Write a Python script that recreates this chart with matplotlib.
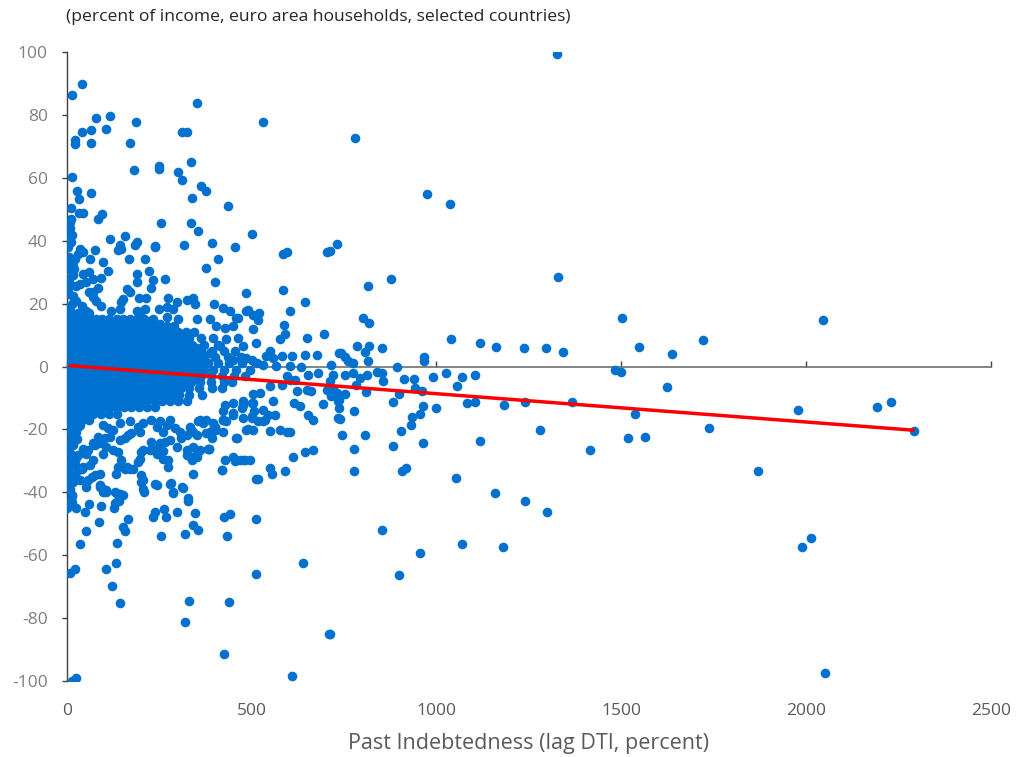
import numpy as np
import matplotlib.pyplot as plt

# dense centre of the cloud, read row by row (y level, x values)
core_rows = [
    (17, [2, 15, 30, 45, 60]),
    (15, [8, 25, 42, 60, 78, 95, 115, 135, 152, 172, 190, 210, 232]),
    (13, [0, 17, 34, 51, 70, 88, 106, 124, 142, 160, 178, 197, 215, 234, 252, 272, 290]),
    (11, [8, 25, 43, 60, 79, 97, 115, 133, 151, 169, 188, 206, 224, 243, 262, 280, 300, 322, 345]),
    (9, [0, 17, 34, 52, 70, 88, 106, 124, 142, 160, 178, 196, 214, 232, 250, 268, 286, 305, 330, 362, 395]),
    (7, [8, 26, 43, 61, 79, 97, 115, 133, 151, 169, 187, 205, 223, 241, 259, 278, 296, 315, 340, 372, 410]),
    (5, [0, 17, 35, 52, 70, 88, 106, 124, 142, 160, 178, 196, 214, 232, 250, 268, 287, 305, 324, 344, 364, 392, 425, 455]),
    (3, [8, 26, 44, 61, 79, 97, 115, 133, 151, 169, 187, 205, 223, 241, 259, 277, 296, 314, 333, 352, 372, 400, 436, 470]),
    (1, [0, 17, 35, 53, 70, 88, 106, 124, 142, 160, 178, 196, 214, 232, 250, 268, 286, 305, 323, 342, 361, 381, 410, 440, 475, 515]),
    (-1, [8, 26, 44, 62, 79, 97, 115, 133, 151, 169, 187, 205, 223, 241, 259, 277, 295, 314, 332, 351, 370, 395, 425, 458, 495]),
    (-3, [0, 17, 35, 53, 71, 88, 106, 124, 142, 160, 178, 196, 214, 232, 250, 268, 287, 305, 324, 343, 363, 390, 420, 452, 482]),
    (-5, [8, 26, 44, 62, 80, 97, 115, 133, 151, 169, 187, 205, 223, 242, 260, 279, 297, 316, 336, 360, 390, 425, 448]),
    (-7, [0, 17, 35, 53, 71, 89, 107, 125, 143, 161, 179, 197, 215, 233, 252, 270, 289, 308, 330, 358, 392, 420]),
    (-9, [8, 26, 44, 62, 80, 98, 116, 134, 152, 170, 188, 206, 225, 244, 263, 283, 303, 330, 365]),
    (-11, [0, 17, 35, 53, 71, 89, 107, 125, 143, 161, 180, 199, 218, 238, 258, 280, 302, 325]),
    (-13, [8, 26, 44, 62, 80, 98, 117, 136, 155, 175, 196, 218, 240]),
    (-15, [0, 17, 35, 53, 72, 92, 113, 135]),
    (-17, [6, 22, 40, 60]),
    (-19, [2, 18, 32]),
]

# households with almost no past debt (left edge)
edge_pts = [
    (4, 19), (14, 20), (26, 21), (6, 23), (18, 22.5), (3, 25), (12, 26), (24, 25.5), (5, 28), (16, 29),
    (2, 31), (10, 32.5), (20, 31), (6, 35), (3, 38), (12, 39.5), (4, 44), (9, 46),
    (4, -21), (14, -22), (28, -23), (6, -24.5), (18, -25), (3, -27), (12, -28), (25, -29), (6, -30.5),
    (15, -31.5), (4, -33), (10, -35), (3, -37.5), (8, -39), (5, -43), (2, -45),
]

# scattered points above the centre
upper_pts = [
    (15, 86.4), (41, 89.8), (22, 72.2), (22, 70.8), (41, 74.6), (66, 75.3), (66, 71.2), (79, 79.2), (105, 75.7),
    (118, 79.8), (172, 71.2), (188, 77.7), (182, 62.5), (15, 60.2), (28, 55.7), (34, 53.3), (66, 55.2), (12, 50.3),
    (12, 47.1), (34, 48.7), (44, 48.7), (84, 47.1), (96, 48.4), (8, 44.1), (8, 41.1), (15, 42), (118, 40.5),
    (157, 41.6), (189, 39.6), (250, 63.9), (250, 62.9), (254, 45.7), (301, 62.0), (313, 59.4), (311, 74.6),
    (324, 74.6), (336, 65.1), (353, 83.8), (339, 53.7), (362, 57.5), (378, 55.7), (336, 45.7), (355, 43.2),
    (393, 39.3), (436, 51.1), (501, 42.3), (530, 77.7), (239, 38.2), (317, 38.6), (455, 37.9),
    (143, 38.8), (139, 37), (148, 37.5), (184, 38.6), (240, 38), (76, 37), (35, 37.5), (31, 35.9), (44, 36.4),
    (22, 34.3), (17, 32.1), (62, 34.3), (98, 33.2), (169, 34.3), (211, 34.3), (112, 30.5), (409, 34.3),
    (378, 31.3), (401, 27), (191, 29.5), (189, 26.8), (223, 30.5), (234, 27.6), (229, 24.9), (265, 27.9),
    (60, 30.2), (44, 29.5), (71, 27.7), (53, 26.8), (35, 26.3), (92, 28.2), (85, 24.9), (71, 23.6), (60, 23.6),
    (162, 24.7), (170, 23.8), (152, 21.5), (148, 20.4), (195, 21.8), (214, 21.8), (274, 21.8), (297, 20.4),
    (324, 21.2), (342, 21.8), (346, 19.9), (486, 23.4), (398, 19.9), (423, 18.5), (441, 17.7), (486, 17.7),
    (504, 16.3), (249, 18.3), (270, 18.8), (288, 18.3), (189, 17.7), (211, 18.3), (143, 18.3), (121, 17.7),
    (94, 19.3), (80, 20.9), (71, 22), (53, 17.7), (40, 19.1), (351, 15.1), (387, 15.1), (405, 12.9),
    (428, 12.4), (450, 12.9), (459, 15.3), (301, 15.1), (270, 15.6), (252, 13.5), (225, 14.5), (207, 15.1),
    (198, 17.2), (504, 11.9), (513, 7.6), (477, 6.5), (464, 9.2), (432, 8.7), (414, 6.5), (387, 4.4),
    (369, 3.3), (351, 6.0), (328, 8.7), (306, 9.2), (288, 7.6), (270, 8.1), (486, 2.8), (500, 2.2), (450, 2.2),
    (585, 35.9), (595, 36.4), (705, 36.6), (584, 24.5), (644, 20.4), (604, 17.7), (462, 15.3), (491, 17.9),
    (520, 17), (516, 14.8), (588, 13.1), (590, 10.3), (576, 8.7), (649, 9.2), (696, 10.5), (737, 4.4),
    (644, 3.8), (676, 3.8), (608, 3.5), (581, 3.3), (558, 2.8), (540, 3.3), (549, 4.9), (635, -0.1),
    (604, 0.1), (716, 0.6), (567, 0.1), (530, 0.5),
]

# scattered points below the centre
lower_pts = [
    (653, -2.6), (680, -2.0), (712, -4.7), (721, -2.6), (622, -7.9), (649, -7.4), (662, -7.9), (703, -7.4),
    (730, -8.4), (734, -11.1), (614, -11.6), (631, -12.7), (694, -11.9), (653, -15.4), (667, -17.0),
    (734, -16.5), (576, -20.2), (595, -20.7), (605, -20.9), (551, -20.4), (644, -27.1), (667, -26.6),
    (612, -28.7), (590, -33.2), (549, -32.2), (554, -34.1), (513, -35.7), (495, -29.8), (477, -29.8),
    (450, -28.9), (455, -30.1), (428, -29.8), (420, -32.8), (342, -34.1), (461, -22.9), (385, -26.1),
    (491, -20), (504, -20.2), (536, -17), (531, -17.5), (530, -13.8), (563, -15.4), (545, -15.4), (558, -11.1),
    (522, -8.4), (549, -6.1), (581, -5.8), (595, -3.1), (604, -4.2), (617, -4.2), (503, -8.8), (477, -12.2),
    (500, -11.6), (506, -14.3), (500, -16.4), (518, -17.5), (423, -17), (432, -17.5), (423, -14.3),
    (450, -15.4), (477, -16.4), (360, -17), (369, -18), (387, -20.7), (401, -19.1), (396, -20.2), (351, -21.8),
    (337, -20.2), (423, -20.7), (351, -28.7), (340, -29.8), (342, -25.5), (518, -35.7), (468, -29.8),
    (482, -29.8), (421, -33), (315, -38.7), (288, -40), (328, -42), (238, -37.5), (279, -37.3), (202, -34.6),
    (202, -36.8), (207, -38.9), (143, -40.5), (139, -41), (130, -40), (98, -38.9), (89, -37.8), (67, -35.2),
    (76, -34.6), (89, -34.1), (58, -36.2), (17, -36.8), (13, -34.6), (31, -33), (40, -32.5), (22, -30.9),
    (62, -31.4), (13, -41), (139, -32), (157, -32.5), (170, -32.5), (179, -32.5), (148, -29.8), (202, -27.1),
    (207, -26.6), (198, -29.3), (225, -26.6), (243, -26.1), (261, -29.3), (274, -32), (324, -28.2),
    (337, -28.7), (351, -27.7), (384, -26.1), (229, -23.9), (252, -24.5), (265, -23.9), (175, -21.3),
    (198, -20.7), (166, -21.8), (157, -22.9), (103, -22.9), (85, -22.3), (94, -24.5), (76, -25), (107, -25.5),
    (125, -26.6), (139, -27.1), (44, -26.1), (53, -27.7), (31, -28.2), (58, -26.6), (22, -22.9), (17, -24.5),
    (26, -20.7), (35, -18.6), (22, -19.1), (98, -18.6), (112, -19.6), (125, -20.2), (116, -22.3), (143, -23.4),
    (143, -18), (170, -17.5), (193, -19.1), (207, -18), (229, -17), (243, -19.1), (252, -17.5), (279, -17),
    (270, -18.6), (292, -19.6), (306, -20.7), (333, -19.1), (342, -20.7), (324, -21.8), (310, -22.9),
    (279, -23.4), (261, -20.7), (355, -17.5), (378, -17), (396, -18), (405, -20.2), (392, -22.9), (378, -21.3),
    (423, -17), (450, -14.9), (473, -13.2), (500, -15.9), (504, -11.6), (477, -11.1), (450, -11.6),
    (428, -12.2), (486, -20.2), (459, -22.9), (98, -40), (162, -32), (134, -34.1), (193, -30.4), (274, -29.8),
    (243, -27.7), (261, -26.8), (297, -25.5), (324, -26.6), (342, -28.7), (360, -26.6), (382, -26.4),
    (71, -24.5), (89, -38.4), (107, -39.4), (35, -36.2), (53, -38.4), (22, -34.6), (44, -32), (71, -29.8),
    (98, -27.7), (313, -38.4), (283, -37.1), (243, -37.6), (207, -36), (15, -41.3), (15, -43.2), (24, -45),
    (60, -43.7), (50, -46.4), (92, -44.4), (88, -49.4), (106, -40), (51, -52.3), (37, -56.5), (8, -65.6),
    (22, -64.6), (106, -64.5), (133, -62.6), (122, -69.9), (143, -75.2), (137, -56.2), (127, -45),
    (131, -43.5), (140, -42.8), (142, -40.7), (151, -41), (151, -51.2), (157, -52.2), (166, -48.6),
    (208, -40), (233, -47.8), (240, -46.4), (263, -45.5), (269, -47.8), (256, -53.8), (288, -40.3),
    (299, -46.4), (320, -53.2), (327, -42.9), (346, -46.7), (342, -50.4), (355, -52), (330, -74.5),
    (320, -81.3), (426, -47.8), (441, -47.1), (433, -53.8), (438, -74.8), (426, -91.6), (513, -48.6),
    (513, -66), (609, -98.4), (638, -62.6), (709, -85), (15, -100.1), (24, -99.3),
]

# high debt-to-income households (x above ~700)
far_pts = [
    (730, 38.9), (712, 36.9), (779, 72.8), (975, 54.9), (1036, 51.8), (1326, 99.4), (815, 25.5), (876, 27.9),
    (1329, 28.6), (802, 15.4), (818, 13.8), (1502, 15.4), (1040, 8.9), (1119, 7.4), (1162, 6.2), (1236, 5.9),
    (1297, 5.9), (1341, 4.6), (1547, 6.2), (1637, 3.9), (966, 3.0), (966, 1.9), (892, -0.2), (786, 6.5),
    (818, 6.5), (853, 5.9), (806, 4.7), (815, 1.7), (741, 4.4), (752, 3.1), (761, 1.7), (773, 1.0),
    (1482, -1.0), (1499, -1.8), (752, -2.6), (773, -2.2), (793, -3.6), (811, -2.6), (838, -1.8), (853, -2.2),
    (856, -4.5), (912, -4.0), (940, -4.0), (992, -3.2), (1027, -2.1), (1069, -3.2), (1104, -2.8), (1625, -6.6),
    (721, -7.2), (716, -9.5), (737, -10.6), (737, -13.2), (739, -16.7), (754, -8.7), (782, -6.0), (809, -8.2),
    (777, -14.3), (744, -21.9), (806, -21.9), (777, -26.1), (777, -33.3), (883, -11.2), (898, -8.8),
    (905, -20.4), (883, -25.4), (934, -16.2), (931, -18.5), (941, -7.0), (960, -7.9), (963, -12.7),
    (956, -15.2), (963, -24.2), (999, -13.3), (908, -33.3), (918, -32.2), (1056, -6.3), (1082, -11.7),
    (1105, -11.3), (1184, -12.1), (1239, -11.3), (1368, -11.2), (1538, -15.2), (1519, -22.8), (1563, -22.3),
    (1281, -20.1), (1416, -26.5), (1118, -23.8), (1053, -35.6), (1159, -40.2), (1240, -42.8), (1300, -46.3),
    (853, -52.0), (1069, -56.5), (1181, -57.3), (956, -59.2), (898, -66.5), (712, -85.0),
    (1721, 8.5), (2046, 14.9), (1737, -19.7), (1869, -33.3), (1978, -13.9), (1988, -57.3), (2013, -54.6),
    (2052, -97.7), (2193, -12.8), (2229, -11.2), (2293, -20.4),
]

# fitted line
trend_x = [5, 2293]
trend_y = [0.3, -20.3]

x_ticks = [0, 500, 1000, 1500, 2000, 2500]
y_ticks = [-100, -80, -60, -40, -20, 0, 20, 40, 60, 80, 100]

xs = []
ys = []
for yv, row in core_rows:
    for xv in row:
        xs.append(xv)
        ys.append(yv)
for group in [edge_pts, upper_pts, lower_pts, far_pts]:
    for xv, yv in group:
        xs.append(xv)
        ys.append(yv)

plt.rcParams['font.family'] = ['Open Sans', 'DejaVu Sans']
plt.rcParams['axes.unicode_minus'] = False

fig = plt.figure(figsize=(10.19, 7.57), dpi=100)
ax = fig.add_axes([0.0655, 0.1008, 0.907, 0.8301])

ax.scatter(xs, ys, s=48, color='#0071CE', linewidths=0, zorder=3)
ax.plot(trend_x, trend_y, color='#FF0000', lw=2.5, zorder=4, solid_capstyle='butt')

ax.set_xlim(0, 2500)
ax.set_ylim(-100, 100)

for s in ['top', 'right']:
    ax.spines[s].set_visible(False)
ax.spines['bottom'].set_position(('data', 0))
ax.spines['bottom'].set_color('#6f6f6f')
ax.spines['bottom'].set_linewidth(1.2)
ax.spines['left'].set_color('#404040')
ax.spines['left'].set_linewidth(1.0)

ax.set_xticks(x_ticks)
ax.tick_params(axis='x', direction='in', length=4.3, width=1, color='#404040', labelbottom=False)
ax.set_yticks(y_ticks)
ax.tick_params(axis='y', direction='out', length=3.6, width=1, color='#404040',
               labelsize=12.5, labelcolor='#7f7f7f', pad=10)

sec = ax.secondary_xaxis(0.0)
sec.set_xticks(x_ticks)
sec.spines['bottom'].set_visible(False)
sec.tick_params(length=0, pad=16, labelsize=12.5, labelcolor='#595959')
sec.set_xlabel('Past Indebtedness (lag DTI, percent)', fontsize=15.5, color='#595959', labelpad=10)

fig.text(0.0648, 0.978, '(percent of income, euro area households, selected countries)',
         fontsize=12.6, color='#262626', ha='left', va='center')

fig.savefig('out.png', dpi=100)
